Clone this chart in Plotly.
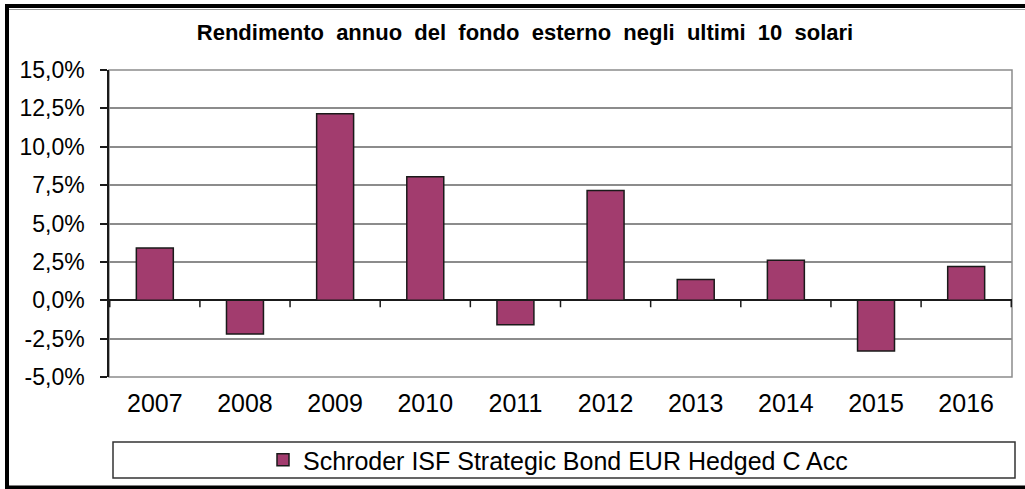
import plotly.graph_objects as go

# ---- data ----
years = ["2007", "2008", "2009", "2010", "2011", "2012", "2013", "2014", "2015", "2016"]
returns_pct = [3.4, -2.2, 12.15, 8.05, -1.6, 7.15, 1.35, 2.6, -3.3, 2.2]
series_name = "Schroder ISF Strategic Bond EUR Hedged C Acc"
title_text = "Rendimento  annuo  del  fondo  esterno  negli  ultimi  10  solari"
y_tickvals = [-5, -2.5, 0, 2.5, 5, 7.5, 10, 12.5, 15]
y_ticktext = ["-5,0%", "-2,5%", "0,0%", "2,5%", "5,0%", "7,5%", "10,0%", "12,5%", "15,0%"]

W, H = 1025, 489
ML, MR, MT, MB = 109, 13, 70, 112
PW = W - ML - MR
PH = H - MT - MB


def px_x(p):
    return (p - ML) / PW


def px_y(p):
    return (H - MB - p) / PH


BAR = "#A23C6E"
FONT = "Liberation Sans, Arial, sans-serif"

fig = go.Figure()
fig.add_trace(go.Bar(
    x=years, y=returns_pct, name=series_name, width=0.41,
    marker=dict(color=BAR, line=dict(color="#1a1a1a", width=1.5)),
    showlegend=True,
))

shapes = []
# plot-area border (gray)
shapes.append(dict(type="rect", xref="paper", yref="paper", x0=0, x1=1, y0=0, y1=1,
                   line=dict(color="#8c8c8c", width=1.5), layer="below"))
# category boundary ticks hanging from zero line
for i in range(len(years) + 1):
    shapes.append(dict(type="line", xref="x", yref="y", ysizemode="pixel", yanchor=0,
                       x0=i - 0.5, x1=i - 0.5, y0=0, y1=-7,
                       line=dict(color="#1a1a1a", width=1.5)))
# legend box
shapes.append(dict(type="rect", xref="paper", yref="paper",
                   x0=px_x(113), x1=px_x(1015), y0=px_y(478), y1=px_y(442),
                   line=dict(color="#333333", width=1.5), layer="below"))
# outer chart border (top, left, bottom) with light inner edge
shapes.append(dict(type="line", xref="paper", yref="paper", x0=px_x(5), x1=px_x(1030),
                   y0=px_y(6), y1=px_y(6), line=dict(color="black", width=4)))
shapes.append(dict(type="line", xref="paper", yref="paper", x0=px_x(9), x1=px_x(1030),
                   y0=px_y(9.5), y1=px_y(9.5), line=dict(color="#9a9a9a", width=1)))
shapes.append(dict(type="line", xref="paper", yref="paper", x0=px_x(7), x1=px_x(7),
                   y0=px_y(4), y1=px_y(489), line=dict(color="black", width=4)))
shapes.append(dict(type="line", xref="paper", yref="paper", x0=px_x(5), x1=px_x(1030),
                   y0=px_y(487.5), y1=px_y(487.5), line=dict(color="black", width=4)))

fig.update_layout(
    template="none",
    width=W, height=H,
    margin=dict(l=ML, r=MR, t=MT, b=MB, pad=0, autoexpand=False),
    paper_bgcolor="white", plot_bgcolor="white",
    font=dict(family=FONT, color="black"),
    title=dict(text="<b>" + title_text + "</b>", x=525 / W, xanchor="center",
               y=1 - 32 / H, yanchor="middle",
               font=dict(size=22, family=FONT, color="black")),
    xaxis=dict(type="category", showline=False, ticks="", showgrid=False,
               automargin=False,
               tickfont=dict(size=25, family=FONT, color="black"),
               ticklabelstandoff=9),
    yaxis=dict(range=[-5, 15], tickvals=y_tickvals, ticktext=y_ticktext,
               automargin=False,
               showgrid=True, gridcolor="#8c8c8c", gridwidth=1.5,
               zeroline=True, zerolinecolor="#1a1a1a", zerolinewidth=1.5,
               showline=True, linecolor="#1a1a1a", linewidth=1.5,
               ticks="outside", ticklen=7, tickcolor="#1a1a1a", tickwidth=1.5,
               tickfont=dict(size=23, family=FONT, color="black"),
               ticklabelstandoff=11),
    legend=dict(orientation="h", xref="container", yref="container",
                x=558 / W, xanchor="center", y=1 - 460 / H, yanchor="middle",
                bgcolor="rgba(0,0,0,0)", borderwidth=0,
                font=dict(size=25, family=FONT, color="black")),
    shapes=shapes,
    showlegend=True,
    bargap=0.59,
)

fig.write_html(
    "out.html",
    config={"displayModeBar": False},
    post_script=(
        "document.body.style.margin='0';"
        "document.body.style.padding='0';"
        "document.body.style.overflow='hidden';"
        "document.documentElement.style.overflow='hidden';"
    ),
)
